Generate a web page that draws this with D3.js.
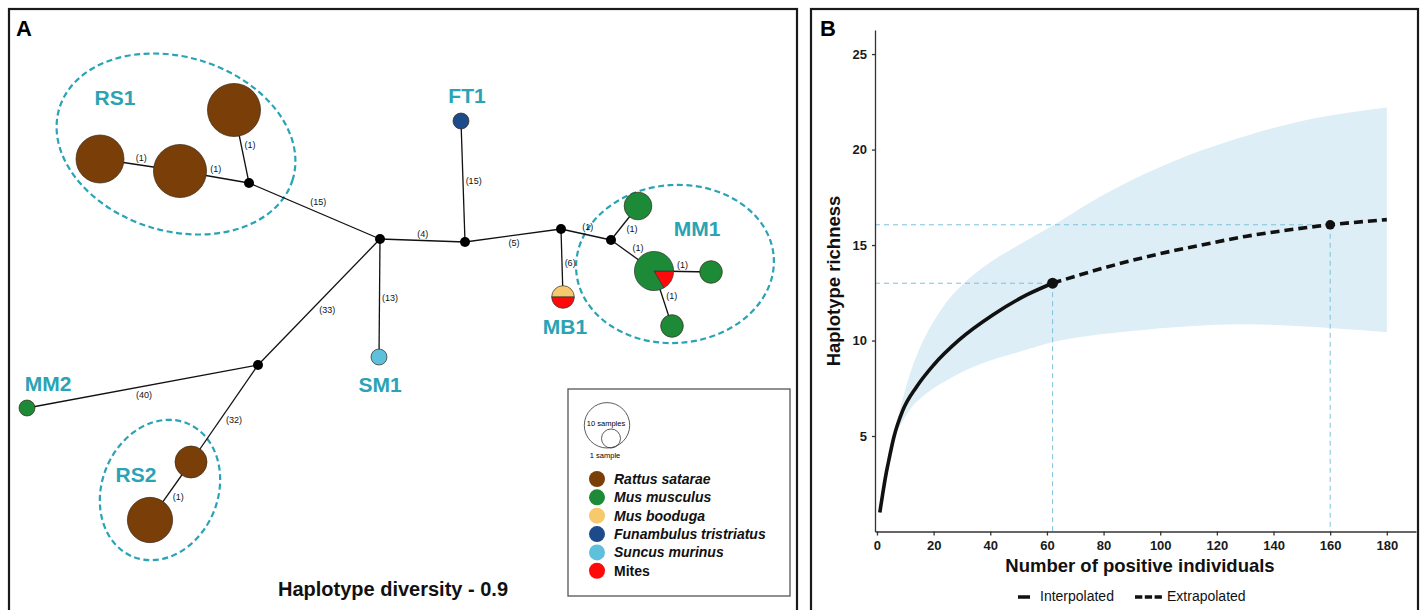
<!DOCTYPE html>
<html>
<head>
<meta charset="utf-8">
<script src="https://cdn.jsdelivr.net/npm/d3@7"></script>
<style>
  body { margin: 0; background: #fff; }
  svg { display: block; font-family: "Liberation Sans", Arial, sans-serif; }
</style>
</head>
<body>
<svg width="1423" height="610"></svg>
<script>
// ---------- panel A : haplotype network ----------
const species = ["Rattus satarae", "Mus musculus", "Mus booduga",
                 "Funambulus tristriatus", "Suncus murinus", "Mites"];
const speciesColors = ["#7a3e08", "#1c8a36", "#f5c96c", "#1c4a8a", "#5ec0da", "#fe0a0a"];

// network layout (x, y) and sample counts per species; empty = median vector
const nodes = [
  {id: "RS1a", x: 100, y: 159, parts: [["Rattus satarae", 9]]},
  {id: "RS1b", x: 180, y: 171, parts: [["Rattus satarae", 11]]},
  {id: "RS1c", x: 234, y: 110, parts: [["Rattus satarae", 11]]},
  {id: "m1",   x: 249, y: 183, parts: []},
  {id: "hub",  x: 380, y: 239, parts: []},
  {id: "m2",   x: 465, y: 242, parts: []},
  {id: "FT1",  x: 461, y: 121, parts: [["Funambulus tristriatus", 1]]},
  {id: "m3",   x: 561, y: 229, parts: []},
  {id: "MB1",  x: 563, y: 297, parts: [["Mus booduga", 1], ["Mites", 1]], start: -90},
  {id: "m4",   x: 611, y: 240, parts: []},
  {id: "MM1a", x: 638, y: 206, parts: [["Mus musculus", 3]]},
  {id: "MM1b", x: 654, y: 271, parts: [["Mites", 1], ["Mus musculus", 5]], start: 90},
  {id: "MM1c", x: 711, y: 272, parts: [["Mus musculus", 2]]},
  {id: "MM1d", x: 672, y: 326, parts: [["Mus musculus", 2]]},
  {id: "SM1",  x: 379, y: 357, parts: [["Suncus murinus", 1]]},
  {id: "m5",   x: 258, y: 365, parts: []},
  {id: "MM2",  x: 27,  y: 408, parts: [["Mus musculus", 1]]},
  {id: "RS2a", x: 191, y: 462, parts: [["Rattus satarae", 4]]},
  {id: "RS2b", x: 150, y: 520, parts: [["Rattus satarae", 8]]}
];

// links with number of mutations
const links = [
  ["RS1a", "RS1b", 1], ["RS1b", "m1", 1], ["RS1c", "m1", 1], ["m1", "hub", 15],
  ["hub", "m2", 4], ["FT1", "m2", 15], ["m3", "m2", 5], ["m3", "MB1", 6],
  ["m3", "m4", 1], ["MM1a", "m4", 1], ["m4", "MM1b", 1], ["MM1b", "MM1c", 1],
  ["MM1b", "MM1d", 1], ["hub", "SM1", 13], ["hub", "m5", 33], ["m5", "MM2", 40],
  ["m5", "RS2a", 32], ["RS2a", "RS2b", 1]
];

// haplogroups: dashed ellipse + label
const groups = [
  {name: "RS1", cx: 176, cy: 144, rx: 122, ry: 87, rot: 17, lx: 115, ly: 97},
  {name: "MM1", cx: 675, cy: 264, rx: 99, ry: 79, rot: -4, lx: 697, ly: 228},
  {name: "RS2", cx: 160, cy: 490, rx: 58, ry: 72, rot: 22, lx: 136, ly: 474},
  {name: "FT1", lx: 467, ly: 95},
  {name: "MB1", lx: 565, ly: 326},
  {name: "SM1", lx: 380, ly: 384},
  {name: "MM2", lx: 48, ly: 383}
];

const sizeLegend = [10, 1];   // samples

// ---------- panel B : rarefaction / extrapolation ----------
const interpX = [1, 2, 3, 4, 6, 9, 14, 20, 29, 41, 53, 62];
const interpY = [1, 1.95, 2.85, 3.6, 4.96, 6.3, 7.58, 8.72, 10.03, 11.35, 12.4, 13];
const extrapX = [62, 85, 100, 113, 130, 141, 160, 180];
const extrapY = [13, 14.0, 14.55, 14.95, 15.45, 15.7, 16.06, 16.33];
const bandX     = [1, 3, 4.5, 6, 9, 12, 16, 20, 25, 30, 40, 50, 63, 75, 90, 110, 130, 150, 165, 180];
const bandUpper = [1, 2.9, 4.0, 5.1, 6.9, 8.4, 9.9, 11.0, 12.1, 12.9, 14.1, 15.0, 16.1, 17.2, 18.4, 19.7, 20.7, 21.5, 21.9, 22.2];
const bandLower = [1, 2.8, 3.8, 4.8, 5.75, 6.45, 7.05, 7.5, 7.95, 8.35, 8.95, 9.4, 9.95, 10.25, 10.5, 10.75, 10.85, 10.75, 10.6, 10.43];
const refX = [62, 160];
const refY = [13, 16.06];
const xTicks = [0, 20, 40, 60, 80, 100, 120, 140, 160, 180];
const yTicks = [5, 10, 15, 20, 25];

const svg = d3.select("svg");
const teal = "#2aa3b4";
const colorOf = d3.scaleOrdinal().domain(species).range(speciesColors);

// panel frames
svg.append("rect").attr("x", 9).attr("y", 9).attr("width", 788).attr("height", 620)
  .attr("fill", "none").attr("stroke", "#1a1a1a").attr("stroke-width", 2.2);
svg.append("rect").attr("x", 811).attr("y", 9).attr("width", 607).attr("height", 620)
  .attr("fill", "none").attr("stroke", "#1a1a1a").attr("stroke-width", 2.2);
svg.append("text").attr("x", 16).attr("y", 36).text("A")
  .attr("font-size", 22).attr("font-weight", "bold");
svg.append("text").attr("x", 820).attr("y", 36).text("B")
  .attr("font-size", 22).attr("font-weight", "bold");

function drawNetwork() {
  const g = svg.append("g");
  // layout units are pixels of the panel
  const nx = d3.scaleLinear().domain([0, 1]).range([0, 1]);
  const ny = d3.scaleLinear().domain([0, 1]).range([0, 1]);
  const rScale = d3.scaleSqrt().domain([0, 1]).range([0, 8]);
  const byId = new Map(nodes.map(d => [d.id, d]));

  // dashed group ellipses
  g.selectAll("ellipse").data(groups.filter(d => d.rx)).join("ellipse")
    .attr("transform", d => `translate(${nx(d.cx)},${ny(d.cy)}) rotate(${d.rot})`)
    .attr("rx", d => d.rx).attr("ry", d => d.ry)
    .attr("fill", "none").attr("stroke", teal)
    .attr("stroke-width", 2.2).attr("stroke-dasharray", "6,3.5");

  // links
  g.selectAll("line.link").data(links).join("line")
    .attr("class", "link")
    .attr("x1", d => nx(byId.get(d[0]).x)).attr("y1", d => ny(byId.get(d[0]).y))
    .attr("x2", d => nx(byId.get(d[1]).x)).attr("y2", d => ny(byId.get(d[1]).y))
    .attr("stroke", "#111").attr("stroke-width", 1.3);

  // mutation labels, pushed to the left-hand side of each link
  g.selectAll("text.mut").data(links).join("text")
    .attr("class", "mut")
    .attr("font-size", 9).attr("fill", "#111")
    .attr("text-anchor", "middle")
    .text(d => `(${d[2]})`)
    .each(function(d) {
      const s = byId.get(d[0]), t = byId.get(d[1]);
      const dx = nx(t.x) - nx(s.x), dy = ny(t.y) - ny(s.y);
      const len = Math.hypot(dx, dy);
      const px = dy / len, py = -dx / len;
      const w = this.getComputedTextLength();
      const off = 2.5 + Math.abs(px) * w / 2 + Math.abs(py) * 4.5;
      const mx = (nx(s.x) + nx(t.x)) / 2 + px * off;
      const my = (ny(s.y) + ny(t.y)) / 2 + py * off;
      d3.select(this).attr("x", mx).attr("y", my + 3.2);
    });

  // nodes
  const node = g.selectAll("g.node").data(nodes).join("g")
    .attr("class", "node")
    .attr("transform", d => `translate(${nx(d.x)},${ny(d.y)})`);

  node.each(function(d) {
    const el = d3.select(this);
    const total = d3.sum(d.parts, p => p[1]);
    if (total === 0) {
      el.append("circle").attr("r", 5).attr("fill", "#000");
      return;
    }
    const r = rScale(total);
    if (d.parts.length === 1) {
      el.append("circle").attr("r", r)
        .attr("fill", colorOf(d.parts[0][0]))
        .attr("stroke", "#3a2a1a").attr("stroke-width", 0.7);
      return;
    }
    const a0 = (d.start || 0) * Math.PI / 180;
    const pie = d3.pie().value(p => p[1]).sort(null)
      .startAngle(a0).endAngle(a0 + 2 * Math.PI);
    const arc = d3.arc().innerRadius(0).outerRadius(r);
    el.selectAll("path").data(pie(d.parts)).join("path")
      .attr("d", arc)
      .attr("fill", p => colorOf(p.data[0]))
      .attr("stroke", "#333").attr("stroke-width", 0.7);
  });

  // group labels
  g.selectAll("text.grp").data(groups).join("text")
    .attr("class", "grp")
    .attr("x", d => nx(d.lx)).attr("y", d => ny(d.ly))
    .attr("dy", "0.36em")
    .attr("text-anchor", "middle")
    .attr("font-size", 21).attr("font-weight", "bold")
    .attr("fill", teal)
    .text(d => d.name);

  svg.append("text").attr("x", 393).attr("y", 596)
    .attr("text-anchor", "middle")
    .attr("font-size", 20).attr("font-weight", "bold").attr("fill", "#111")
    .text("Haplotype diversity - 0.9");
}

function drawNetworkLegend() {
  const g = svg.append("g");
  g.append("rect").attr("x", 568).attr("y", 389).attr("width", 222).attr("height", 207)
    .attr("fill", "#fff").attr("stroke", "#555").attr("stroke-width", 1.3);

  // nested size circles, bottoms touching
  const lr = d3.scaleLinear().domain([1, Math.sqrt(10)]).range([9.5, 22.7]);
  const base = 448;
  g.selectAll("circle.size").data(sizeLegend).join("circle")
    .attr("class", "size")
    .attr("cx", (d, i) => i === 0 ? 607 : 611)
    .attr("cy", d => base - lr(Math.sqrt(d)))
    .attr("r", d => lr(Math.sqrt(d)))
    .attr("fill", "none").attr("stroke", "#333").attr("stroke-width", 0.8);
  g.append("text").attr("x", 606).attr("y", 425.5).attr("text-anchor", "middle")
    .attr("font-size", 7.5).text(`${sizeLegend[0]} samples`);
  g.append("text").attr("x", 605).attr("y", 457.5).attr("text-anchor", "middle")
    .attr("font-size", 7.5).text(`${sizeLegend[1]} sample`);

  const row = d3.scaleLinear().domain([0, 1]).range([479, 497.35]);
  const item = g.selectAll("g.item").data(species).join("g")
    .attr("class", "item")
    .attr("transform", (d, i) => `translate(597,${row(i)})`);
  item.append("circle").attr("r", 8).attr("fill", d => colorOf(d));
  item.append("text").attr("x", 17).attr("y", 5)
    .attr("font-size", 14).attr("font-weight", "bold")
    .attr("font-style", d => d === "Mites" ? "normal" : "italic")
    .attr("fill", "#111")
    .text(d => d);
}

function drawCurve() {
  const x = d3.scaleLinear().domain([-0.7, 190.3]).range([875, 1416]);
  const y = d3.scaleLinear().domain([0, 26.26]).range([531.5, 30]);
  const g = svg.append("g");

  const band = bandX.map((v, i) => ({x: v, lo: bandLower[i], hi: bandUpper[i]}));
  g.append("path")
    .attr("d", d3.area().x(d => x(d.x)).y0(d => y(d.lo)).y1(d => y(d.hi))
      .curve(d3.curveMonotoneX)(band))
    .attr("fill", "#ddeef6");

  // dashed reference lines to the axes
  refX.forEach((v, i) => {
    g.append("line").attr("x1", x.range()[0]).attr("x2", x(v))
      .attr("y1", y(refY[i])).attr("y2", y(refY[i]))
      .attr("stroke", "#7cc2dc").attr("stroke-width", 1).attr("stroke-dasharray", "5,4");
    g.append("line").attr("x1", x(v)).attr("x2", x(v))
      .attr("y1", y(refY[i])).attr("y2", y(0))
      .attr("stroke", "#7cc2dc").attr("stroke-width", 1).attr("stroke-dasharray", "5,4");
  });

  const line = d3.line().x(d => x(d[0])).y(d => y(d[1])).curve(d3.curveMonotoneX);
  g.append("path").attr("d", line(d3.zip(interpX, interpY)))
    .attr("fill", "none").attr("stroke", "#111").attr("stroke-width", 3.6);
  g.append("path").attr("d", line(d3.zip(extrapX, extrapY)))
    .attr("fill", "none").attr("stroke", "#111").attr("stroke-width", 3.6)
    .attr("stroke-dasharray", "9,5");

  g.selectAll("circle.ref").data(d3.zip(refX, refY)).join("circle")
    .attr("class", "ref")
    .attr("cx", d => x(d[0])).attr("cy", d => y(d[1])).attr("r", d => d[0] === refX[0] ? 5.5 : 4.8)
    .attr("fill", "#111");

  // axes
  const ax = g.append("g").attr("transform", `translate(0,${y(0)})`)
    .call(d3.axisBottom(x).tickValues(xTicks).tickSize(4).tickSizeOuter(0).tickPadding(5));
  const ay = g.append("g").attr("transform", `translate(${x.range()[0]},0)`)
    .call(d3.axisLeft(y).tickValues(yTicks).tickSize(3).tickSizeOuter(0).tickPadding(5));
  [ax, ay].forEach(a => {
    a.selectAll("path, line").attr("stroke", "#333").attr("stroke-width", 1.3);
    a.selectAll("text").attr("font-size", 13).attr("font-weight", "bold")
      .attr("fill", "#1a1a1a").attr("font-family", "Liberation Sans, Arial, sans-serif");
  });

  svg.append("text").attr("x", 1140).attr("y", 572).attr("text-anchor", "middle")
    .attr("font-size", 18.5).attr("font-weight", "bold").attr("fill", "#111")
    .text("Number of positive individuals");
  svg.append("text").attr("transform", "translate(840,281) rotate(-90)")
    .attr("text-anchor", "middle")
    .attr("font-size", 18.5).attr("font-weight", "bold").attr("fill", "#111")
    .text("Haplotype richness");

  // line-type legend
  const lg = svg.append("g");
  lg.append("line").attr("x1", 1018).attr("x2", 1030).attr("y1", 597).attr("y2", 597)
    .attr("stroke", "#111").attr("stroke-width", 3.5);
  lg.append("text").attr("x", 1040).attr("y", 601).attr("font-size", 14).attr("fill", "#111")
    .text("Interpolated");
  lg.append("line").attr("x1", 1135).attr("x2", 1162).attr("y1", 597).attr("y2", 597)
    .attr("stroke", "#111").attr("stroke-width", 3.5).attr("stroke-dasharray", "7.3,2.5");
  lg.append("text").attr("x", 1167).attr("y", 601).attr("font-size", 14).attr("fill", "#111")
    .text("Extrapolated");
}

drawNetwork();
drawNetworkLegend();
drawCurve();
</script>
</body>
</html>
